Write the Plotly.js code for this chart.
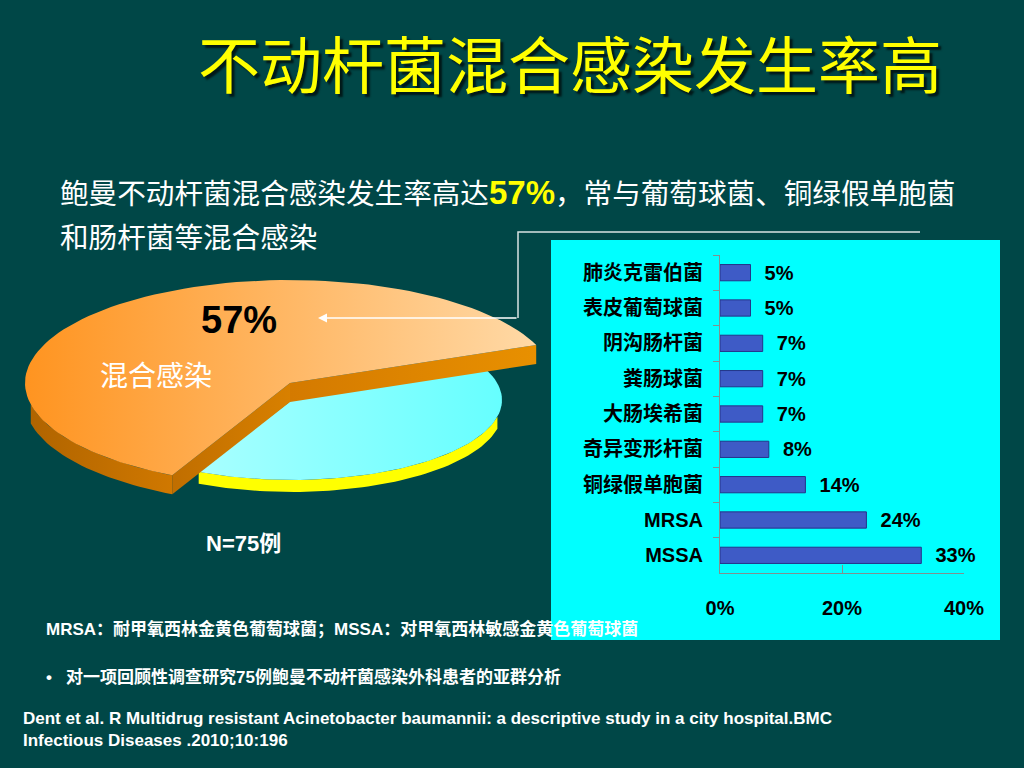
<!DOCTYPE html>
<html><head><meta charset="utf-8">
<script src="https://cdn.plot.ly/plotly-3.0.1.min.js"></script>
<style>html,body{margin:0;padding:0;background:#004747;}#chart{width:1024px;height:768px;}</style>
</head><body><div id="chart"></div>
<script>
// ---- data ----
const pieLabels = ['混合感染', '其他'];
const pieValues = [57, 43];
const pieValueText = '57%';
const pieNote = 'N=75例';

const barCategories = ['肺炎克雷伯菌', '表皮葡萄球菌', '阴沟肠杆菌', '粪肠球菌', '大肠埃希菌', '奇异变形杆菌', '铜绿假单胞菌', 'MRSA', 'MSSA'];
const barValues = [5, 5, 7, 7, 7, 8, 14, 24, 33];
const xTickValues = [0, 20, 40];
const xTickLabels = ['0%', '20%', '40%'];

const titleText = '不动杆菌混合感染发生率高';
const subLine1a = '鲍曼不动杆菌混合感染发生率高达';
const subLine1b = '57%';
const subLine1c = '，常与葡萄球菌、铜绿假单胞菌';
const subLine2 = '和肠杆菌等混合感染';
const footNote = 'MRSA：耐甲氧西林金黄色葡萄球菌；MSSA：对甲氧西林敏感金黄色葡萄球菌';
const bulletText = '对一项回顾性调查研究75例鲍曼不动杆菌感染外科患者的亚群分析';
const refLine1 = 'Dent et al. R Multidrug resistant Acinetobacter baumannii: a descriptive study in a city hospital.BMC';
const refLine2 = 'Infectious Diseases .2010;10:196';

// ---- 3D pie geometry (computed from pie values) ----
const total = pieValues.reduce((a, b) => a + b, 0);
const span = pieValues[0] / total * 360;
const mid = 134.5;
const a0 = mid - span / 2, a1 = mid + span / 2;
const O = {cx: 290, cy: 383, rx: 265, ry: 103, t: 19};
const C = {cx: 292, cy: 400, rx: 210, ry: 80, t: 12};
// perspective-like distortion of the angle (far side appears larger)
function persp(deg) { return deg - 12 * Math.cos(deg * Math.PI / 180); }
function pt(e, deg, dy) { const r = persp(deg) * Math.PI / 180; return [e.cx + e.rx * Math.cos(r), e.cy - e.ry * Math.sin(r) + (dy || 0)]; }
function arc(e, from, to, dy) {
  const pts = []; const n = Math.max(2, Math.ceil(Math.abs(to - from) / 2));
  for (let i = 0; i <= n; i++) pts.push(pt(e, from + (to - from) * i / n, dy));
  return pts;
}
function poly(pts, name, color, grad) {
  pts = pts.concat([pts[0]]);
  const tr = {type: 'scatter', x: pts.map(p => p[0]), y: pts.map(p => p[1]), mode: 'lines', fill: 'toself',
    fillcolor: color, line: {width: 0, color: color}, hoverinfo: 'skip', showlegend: false, name: name, xaxis: 'x', yaxis: 'y'};
  if (grad) tr.fillgradient = {type: 'horizontal', colorscale: grad};
  return tr;
}
const apex = [O.cx, O.cy], apexB = [O.cx, O.cy + O.t];
const pS = pt(O, a0), pE = pt(O, a1);
const traces = [
  poly(arc(C, a1, 360, 0).concat(arc(C, 360, a1, C.t)), pieLabels[1], '#ffff00'),
  poly([[C.cx, C.cy]].concat(arc(C, a1, a0 + 360)), pieLabels[1], '#80ffff', [[0, '#a8ffff'], [1, '#66ffff']]),
  poly([apex, pS, [pS[0], pS[1] + O.t], apexB], pieLabels[0], '#e08800', [[0, '#d47a00'], [1, '#e89000']]),
  poly(arc(O, 180, a1, 0).concat(arc(O, a1, 180, O.t)), pieLabels[0], '#c07000', [[0, '#b06400'], [1, '#d07800']]),
  poly([apex, pE, [pE[0], pE[1] + O.t], apexB], pieLabels[0], '#d07a00', [[0, '#c06e00'], [1, '#d88000']]),
  poly([apex].concat(arc(O, a0, a1)), pieLabels[0], '#ffb060', [[0, '#ff9420'], [1, '#ffd9a6']])
];

traces.push({
  type: 'bar', orientation: 'h', x: barValues, y: barCategories, xaxis: 'x2', yaxis: 'y2',
  width: 0.46, marker: {color: '#3e5bc6', line: {color: '#24348a', width: 1}},
  text: barValues.map(v => '\u00a0\u00a0' + v + '%'), textposition: 'outside', cliponaxis: false, constraintext: 'none',
  textfont: {family: 'Liberation Sans, Arial, sans-serif', size: 20, color: '#000000', weight: 'bold'},
  hoverinfo: 'skip', showlegend: false
});

const CJK = 'Noto Sans CJK SC, sans-serif';
const MIX = 'Liberation Sans, Arial, Noto Sans CJK SC, sans-serif';
function ann(x, y, text, size, color, opts) {
  return Object.assign({xref: 'x', yref: 'y', x: x, y: y, text: text, showarrow: false, xanchor: 'left', yanchor: 'middle',
    font: {family: MIX, size: size, color: color}}, opts || {});
}
const annotations = [
  ann(570, 62, titleText, 62, '#ffff00', {xanchor: 'center', font: {family: CJK, size: 62, color: '#ffff00', shadow: '3px 3px 2px #001818'}}),
  ann(58, 192, subLine1a + '<span style="font-size:33px;color:#ffff00"><b>' + subLine1b + '</b></span>' + subLine1c, 28.6, '#ffffff'),
  ann(58, 238, subLine2, 28.6, '#ffffff'),
  ann(239, 320, '<b>' + pieValueText + '</b>', 38, '#000000', {xanchor: 'center'}),
  ann(156, 376, pieLabels[0], 28, '#ffffff', {xanchor: 'center'}),
  ann(204, 543, '<b>' + pieNote + '</b>', 22, '#ffffff'),
  ann(44, 629, '<b>' + footNote + '</b>', 17, '#ffffff'),
  ann(44, 677, '<b>•   ' + bulletText + '</b>', 17, '#ffffff'),
  ann(21, 718, '<b>' + refLine1 + '</b>', 17, '#ffffff'),
  ann(21, 740, '<b>' + refLine2 + '</b>', 17, '#ffffff'),
  {xref: 'x', yref: 'y', x: 318, y: 318, ax: 518, ay: 318, axref: 'x', ayref: 'y', text: '', showarrow: true,
    arrowhead: 2, arrowsize: 1.2, arrowwidth: 1.5, arrowcolor: '#ffffff'}
];

const shapes = [
  {type: 'rect', xref: 'x', yref: 'y', x0: 551, x1: 1000, y0: 240, y1: 640, fillcolor: '#00ffff', line: {width: 0}, layer: 'below'},
  {type: 'path', xref: 'x', yref: 'y', path: 'M518,318 L518,232 L920,232', line: {color: '#d8e4e4', width: 1.5}, layer: 'above'}
];

const W = 1024, H = 768;
const layout = {
  width: W, height: H, margin: {l: 0, r: 0, t: 0, b: 0}, showlegend: false,
  paper_bgcolor: '#004747', plot_bgcolor: 'rgba(0,0,0,0)',
  xaxis: {domain: [0, 1], range: [0, W], visible: false, fixedrange: true},
  yaxis: {domain: [0, 1], range: [H, 0], visible: false, fixedrange: true},
  xaxis2: {domain: [720 / W, 964 / W], range: [0, 40], anchor: 'y2', tickvals: xTickValues, ticktext: xTickLabels,
    ticks: 'inside', ticklen: 8, tickcolor: '#7f9090', showline: true, linecolor: '#7f9090', linewidth: 1,
    showgrid: false, zeroline: false, ticklabelstandoff: 17, fixedrange: true,
    tickfont: {family: MIX, size: 20, color: '#000000', weight: 'bold'}},
  yaxis2: {domain: [1 - 573 / H, 1 - 255 / H], anchor: 'x2', type: 'category', categoryarray: barCategories,
    range: [barCategories.length - 0.5, -0.5], ticks: 'outside', tickson: 'boundaries', ticklen: 6, tickcolor: '#7f9090',
    showline: true, linecolor: '#7f9090', linewidth: 1, showgrid: false, ticklabelstandoff: 12, fixedrange: true,
    tickfont: {family: MIX, size: 20, color: '#000000', weight: 'bold'}},
  annotations: annotations, shapes: shapes
};
Plotly.newPlot('chart', traces, layout, {staticPlot: true, displayModeBar: false});
</script></body></html>
